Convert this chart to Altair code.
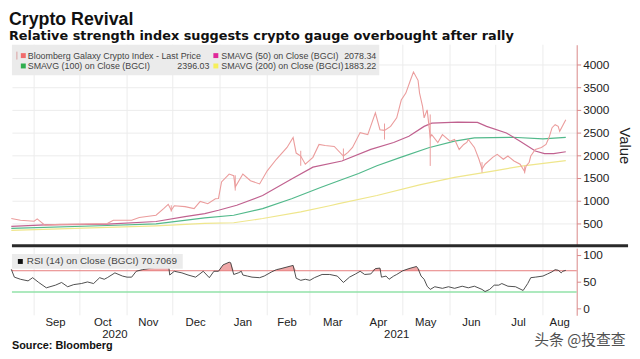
import altair as alt
import pandas as pd

# ---------------- data ----------------
price_dates = ["2020-08-17","2020-08-23","2020-09-01","2020-09-03","2020-09-08","2020-09-18","2020-10-04","2020-10-19","2020-10-23","2020-11-04","2020-11-09","2020-11-20","2020-11-25","2020-11-28","2020-11-30","2020-12-02","2020-12-09","2020-12-15","2020-12-19","2020-12-24","2020-12-29","2020-12-31","2021-01-02","2021-01-07","2021-01-10","2021-01-11","2021-01-16","2021-01-21","2021-01-27","2021-02-01","2021-02-07","2021-02-14","2021-02-18","2021-02-20","2021-02-23","2021-02-26","2021-03-03","2021-03-07","2021-03-11","2021-03-17","2021-03-23","2021-03-26","2021-03-29","2021-04-03","2021-04-08","2021-04-13","2021-04-16","2021-04-19","2021-04-23","2021-04-27","2021-04-30","2021-05-03","2021-05-06","2021-05-08","2021-05-11","2021-05-12","2021-05-14","2021-05-15","2021-05-17","2021-05-19","2021-05-20","2021-05-24","2021-05-27","2021-06-01","2021-06-04","2021-06-07","2021-06-10","2021-06-12","2021-06-13","2021-06-17","2021-06-20","2021-06-22","2021-06-24","2021-06-29","2021-07-02","2021-07-06","2021-07-09","2021-07-13","2021-07-17","2021-07-20","2021-07-21","2021-07-23","2021-07-24","2021-07-27","2021-07-31","2021-08-03","2021-08-05","2021-08-07","2021-08-09","2021-08-11","2021-08-12","2021-08-16"]
price_close = [610,570,550,600,463,480,485,500,570,570,630,680,826,920,790,890,870,826,985,935,1043,1050,1413,1587,1550,1300,1587,1441,1370,1659,1913,2174,2391,2050,1985,1804,1956,2239,2217,2196,1985,2065,2174,2500,2456,2935,2565,2550,2637,2826,3217,3370,3652,3833,3652,3370,3072,2826,3000,2400,2456,2283,2456,2311,2348,2130,2239,2283,2348,2174,1913,1700,1804,1956,2022,1913,1985,1876,1804,1640,1767,1848,1985,2130,2174,2239,2391,2609,2674,2637,2528,2783]

wick_dates = ["2020-11-30","2021-01-11","2021-02-23","2021-03-23","2021-04-19","2021-05-19","2021-06-22","2021-07-20"]
wick_low = [760,1224,1770,1900,2348,1767,1620,1600]
wick_high = [900,1560,2100,2150,2700,2900,1850,1760]

sma50_dates = ["2020-08-17","2020-09-08","2020-10-19","2020-11-20","2020-12-09","2020-12-22","2020-12-31","2021-01-12","2021-01-29","2021-02-17","2021-03-03","2021-03-22","2021-04-10","2021-04-25","2021-05-05","2021-05-15","2021-05-20","2021-06-06","2021-06-19","2021-06-25","2021-07-08","2021-07-17","2021-07-27","2021-08-02","2021-08-08","2021-08-16"]
sma50_vals = [435,467,485,543,650,717,790,900,1115,1478,1739,1876,2130,2283,2420,2637,2710,2732,2724,2637,2493,2311,2094,2037,2037,2078]

sma100_dates = ["2020-08-17","2020-10-19","2020-11-20","2020-12-22","2021-01-10","2021-01-29","2021-02-17","2021-03-08","2021-03-20","2021-04-02","2021-04-14","2021-04-30","2021-05-18","2021-06-04","2021-06-17","2021-07-12","2021-08-01","2021-08-16"]
sma100_vals = [390,455,490,623,680,826,1043,1290,1440,1600,1770,1960,2167,2311,2384,2398,2362,2396]

sma200_dates = ["2020-08-17","2020-10-19","2020-11-20","2020-12-22","2021-01-10","2021-01-29","2021-02-23","2021-03-14","2021-03-20","2021-04-14","2021-05-12","2021-06-04","2021-06-17","2021-06-30","2021-07-19","2021-08-16"]
sma200_vals = [348,413,445,500,515,609,754,890,935,1115,1348,1515,1587,1659,1767,1883]

rsi_dates = ["2020-08-17","2020-08-19","2020-08-23","2020-08-28","2020-08-31","2020-09-04","2020-09-09","2020-09-15","2020-09-19","2020-09-23","2020-09-27","2020-10-02","2020-10-06","2020-10-10","2020-10-14","2020-10-17","2020-10-19","2020-10-24","2020-10-29","2020-11-01","2020-11-04","2020-11-07","2020-11-11","2020-11-17","2020-11-23","2020-11-28","2020-11-29","2020-12-02","2020-12-07","2020-12-11","2020-12-16","2020-12-21","2020-12-25","2020-12-28","2020-12-31","2021-01-03","2021-01-07","2021-01-08","2021-01-10","2021-01-13","2021-01-15","2021-01-16","2021-01-19","2021-01-22","2021-01-27","2021-01-30","2021-02-04","2021-02-07","2021-02-10","2021-02-14","2021-02-18","2021-02-20","2021-02-23","2021-02-26","2021-03-01","2021-03-04","2021-03-09","2021-03-14","2021-03-19","2021-03-23","2021-03-27","2021-03-31","2021-04-03","2021-04-06","2021-04-10","2021-04-13","2021-04-16","2021-04-17","2021-04-20","2021-04-22","2021-04-25","2021-04-27","2021-05-01","2021-05-05","2021-05-10","2021-05-11","2021-05-13","2021-05-15","2021-05-17","2021-05-19","2021-05-22","2021-05-27","2021-05-31","2021-06-04","2021-06-09","2021-06-13","2021-06-17","2021-06-22","2021-06-24","2021-06-27","2021-06-30","2021-07-03","2021-07-05","2021-07-09","2021-07-14","2021-07-19","2021-07-22","2021-07-24","2021-07-27","2021-08-01","2021-08-04","2021-08-07","2021-08-09","2021-08-11","2021-08-13","2021-08-14","2021-08-16"]
rsi_vals = [72.6,58,54,51,57,48,38,43,48,40,44,46,49,46,57,54,57,66,60,58,58,69,72,75,78,86,62,69,66,62,58,69,57,69,69,81,86,85,63,66,69,62,60,58,57,60,68,72,74,77,80,56,52,54,52,57,63,63,60,48,58,64,69,63,64,74,75,58,60,54,60,63,70,74,78,74,60,54,41,35,40,37,40,37,41,38,41,35,31,35,43,43,46,41,40,33,46,57,58,60,64,68,72,71,66,69,70.7]

rsi_levels_upper = [70]
rsi_levels_lower = [30]

month_starts = ["2020-09-01","2020-10-01","2020-11-01","2020-12-01","2021-01-01","2021-02-01","2021-03-01","2021-04-01","2021-05-01","2021-06-01","2021-07-01","2021-08-01"]
month_mids = ["2020-09-15","2020-10-16","2020-11-15","2020-12-16","2021-01-16","2021-02-14","2021-03-16","2021-04-15","2021-05-16","2021-06-15","2021-07-16","2021-08-12"]
month_names = ["Sep","Oct","Nov","Dec","Jan","Feb","Mar","Apr","May","Jun","Jul","Aug"]
year_mids = ["2020-10-24","2021-04-27"]
year_names = ["2020","2021"]

series_names = ["SMAVG (200)", "SMAVG (100)", "SMAVG (50)"]
series_colors = ["#efe68c", "#52b98b", "#c0618f"]

# ---------------- frames ----------------
price_df = pd.DataFrame({"date": price_dates, "value": price_close})
wick_df = pd.DataFrame({"date": wick_dates, "low": wick_low, "high": wick_high})
sma_df = pd.concat([
    pd.DataFrame({"date": sma200_dates, "value": sma200_vals, "series": series_names[0]}),
    pd.DataFrame({"date": sma100_dates, "value": sma100_vals, "series": series_names[1]}),
    pd.DataFrame({"date": sma50_dates, "value": sma50_vals, "series": series_names[2]}),
])
rsi_df = pd.DataFrame({"date": rsi_dates, "rsi": rsi_vals})
months_df = pd.DataFrame({"date": month_starts})
mlab_df = pd.DataFrame({"date": month_mids, "name": month_names})
ylab_df = pd.DataFrame({"date": year_mids, "name": year_names})
one = pd.DataFrame({"k": [0]})

# ---------------- layout ----------------
W, H1, H2 = 572, 204, 68
FONT = "Liberation Sans"
AXIS_RED = "#d88787"

x_scale = alt.Scale(domain=[alt.DateTime(year=2020, month=8, date=17, hours=10),
                            alt.DateTime(year=2021, month=8, date=23, hours=4)])
X = alt.X("date:T", scale=x_scale, axis=None)

y_top_scale = alt.Scale(domain=[0, 4435], nice=False, zero=False)
y_top_axis = alt.Axis(orient="right", values=[500, 1000, 1500, 2000, 2500, 3000, 3500, 4000], format="d",
                      grid=True, gridColor="#ececec", domainColor=AXIS_RED, tickColor=AXIS_RED,
                      tickSize=4, labelFont=FONT, labelFontSize=12, labelColor="#222", labelPadding=2,
                      title="Value", titleFont=FONT, titleFontSize=15, titleFontWeight="normal",
                      titleColor="#222", titlePadding=8)

def ytop(field):
    return alt.Y(field, type="quantitative", scale=y_top_scale, axis=y_top_axis)

grid_top = alt.Chart(months_df).mark_rule(color="#ececec", strokeWidth=1).encode(x=X)
legend_bg = alt.Chart(one).mark_rect(color="#ebebeb").encode(
    x=alt.value(0), x2=alt.value(372), y=alt.value(0), y2=alt.value(31))
sma_lines = alt.Chart(sma_df).mark_line(strokeWidth=1.2).encode(
    x=X, y=ytop("value"),
    color=alt.Color("series:N", scale=alt.Scale(domain=series_names, range=series_colors), legend=None))
wicks = alt.Chart(wick_df).mark_rule(color="#eb9c9c", strokeWidth=1).encode(
    x=X, y=ytop("low"), y2=alt.Y2("high"))
price_line = alt.Chart(price_df).mark_line(color="#eb9c9c", strokeWidth=1.1).encode(x=X, y=ytop("value"))

def sq(x0, yc, color, s=5):
    return alt.Chart(one).mark_rect(color=color).encode(
        x=alt.value(x0), x2=alt.value(x0 + s), y=alt.value(yc - s / 2), y2=alt.value(yc + s / 2))

def txt(x0, yc, s, align="left", font=FONT, size=9, color="#444", weight="normal"):
    return alt.Chart(one).mark_text(align=align, baseline="middle", font=font, fontSize=size,
                                    color=color, fontWeight=weight).encode(
        x=alt.value(x0), y=alt.value(yc), text=alt.value(s))

R1, R2 = 11, 21.5
C2 = 204
legend_items = [
    alt.Chart(one).mark_rule(color="#d9a0a0", strokeWidth=1).encode(
        x=alt.value(5), y=alt.value(7), y2=alt.value(15)),
    sq(9, R1, "#f06c6c"),
    txt(16, R1, "Bloomberg Galaxy Crypto Index - Last Price"),
    sq(C2, R1, "#e0289a"),
    txt(C2 + 8, R1, "SMAVG (50)  on Close (BGCI)"),
    txt(369, R1, "2078.34", align="right"),
    sq(9, R2, "#2fae4e"),
    txt(16, R2, "SMAVG (100)  on Close (BGCI)"),
    txt(C2 - 4, R2, "2396.03", align="right"),
    sq(C2, R2, "#f6ef5a"),
    txt(C2 + 8, R2, "SMAVG (200)  on Close (BGCI)"),
    txt(369, R2, "1883.22", align="right"),
]
separator = alt.Chart(one).mark_rule(color="#2a2a2a", strokeWidth=3).encode(
    x=alt.value(0), x2=alt.value(W + 52), y=alt.value(H1 - 0.5))

top = alt.layer(grid_top, legend_bg, sma_lines, wicks, price_line, *legend_items, separator).properties(
    width=W, height=H1)

# ---------------- RSI panel ----------------
y_rsi_scale = alt.Scale(domain=[-13.5, 112.4], nice=False, zero=False)
y_rsi_axis = alt.Axis(orient="right", values=[0, 50, 100], format="d", grid=False, domainColor=AXIS_RED,
                      tickColor=AXIS_RED, tickSize=4, labelFont=FONT, labelFontSize=12,
                      labelColor="#222", labelPadding=2, title=None)

def yr(field):
    return alt.Y(field, type="quantitative", scale=y_rsi_scale, axis=y_rsi_axis)

grid_bot = alt.Chart(months_df).mark_rule(color="#ececec", strokeWidth=1).encode(x=X)
fill = alt.Chart(rsi_df).transform_calculate(top="max(datum.rsi, 70)", base="70").mark_area(
    color="#f0a3a3", opacity=0.95).encode(x=X, y=yr("top"), y2=alt.Y2("base:Q"))
upper = alt.Chart(pd.DataFrame({"lvl": rsi_levels_upper})).mark_rule(color="#e67c7c", strokeWidth=1).encode(y=yr("lvl"))
lower = alt.Chart(pd.DataFrame({"lvl": rsi_levels_lower})).mark_rule(color="#92e2a8", strokeWidth=1.5).encode(y=yr("lvl"))
rsi_line = alt.Chart(rsi_df).mark_line(color="#3a3a3a", strokeWidth=0.9).encode(x=X, y=yr("rsi"))
rsi_bg = alt.Chart(one).mark_rect(color="#ebebeb").encode(
    x=alt.value(0), x2=alt.value(173), y=alt.value(6), y2=alt.value(21))
rsi_sq = sq(6, 13.5, "#111111")
rsi_txt = txt(15, 13.5, "RSI (14)  on Close (BGCI) 70.7069", size=10)
mlabels = alt.Chart(mlab_df).mark_text(font=FONT, fontSize=11.5, color="#222", baseline="middle").encode(
    x=X, y=alt.value(H2 + 8), text="name:N")
ylabels = alt.Chart(ylab_df).mark_text(font=FONT, fontSize=11.5, color="#222", baseline="middle").encode(
    x=X, y=alt.value(H2 + 20), text="name:N")
source = txt(0, H2 + 31, "Source: Bloomberg", size=11, color="#111", weight="bold")
watermark = txt(529, H2 + 25, "头条 @投查查", font="Noto Sans CJK SC", size=15, color="#505050")

bottom = alt.layer(grid_bot, fill, upper, lower, rsi_line, rsi_bg, rsi_sq, rsi_txt,
                   mlabels, ylabels, source, watermark).properties(width=W, height=H2)

chart = alt.vconcat(top, bottom, spacing=0).properties(
    title=alt.TitleParams(
        text="Crypto Revival",
        subtitle="Relative strength index suggests crypto gauge overbought after rally",
        anchor="start", font=FONT, fontSize=18, fontWeight="bold", color="#111",
        subtitleFont="DejaVu Sans", subtitleFontSize=13, subtitleFontWeight="bold", subtitleColor="#111",
        subtitlePadding=2, offset=1),
    padding=0,
).configure_view(stroke=None)

chart.save("out.html", embed_options={"renderer": "svg", "actions": False})
